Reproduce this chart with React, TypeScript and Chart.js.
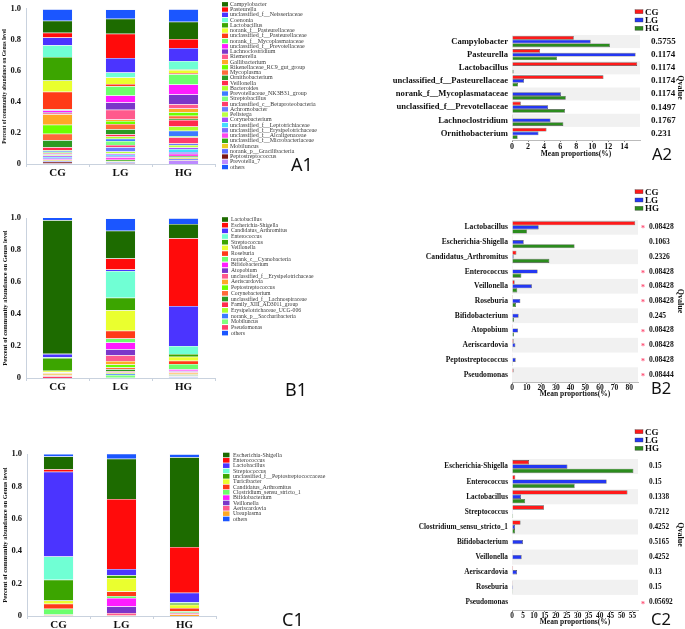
import React, { useEffect, useRef } from "react";
import { Chart, registerables } from "chart.js";

const SERIF = '"Liberation Serif", "Times New Roman", serif';
const SANS = '"Noto Sans", "Liberation Sans", sans-serif';

const GROUPS = ["CG", "LG", "HG"];
const GROUP_COLORS = ["#ff1a1a", "#2438f2", "#2b8c1d"];

const PALETTE = [
  "#1d6b00", "#ff0b0b", "#4b34ff", "#70ffd4", "#3ca500", "#eaff2f", "#ff3a18", "#6cff6c",
  "#ff1cff", "#7b36c9", "#ff5a8d", "#ffa826", "#6cff00", "#ff6a3a", "#2c9a22", "#ff2a4c",
  "#acff2c", "#3c7bff", "#7eff7e", "#ff3b6b", "#6a7cff", "#bcff46", "#a84cff", "#46dcff",
  "#7c6cff", "#ff46ee", "#36aa14", "#eccd24", "#5a6cff", "#7a1414", "#bc8aff",
];
const OTHERS_COLOR = "#1b56ff";

// ---------- A1 ----------
const A1_TAXA = [
  "Campylobacter", "Pasteurella", "unclassified_f__Neisseriaceae", "Coenonia", "Lactobacillus",
  "norank_f__Pasteurellaceae", "unclassified_f__Pasteurellaceae", "norank_f__Mycoplasmataceae",
  "unclassified_f__Prevotellaceae", "Lachnoclostridium", "Riemerella", "Gallibacterium",
  "Rikenellaceae_RC9_gut_group", "Mycoplasma", "Ornithobacterium", "Veillonella", "Bacteroides",
  "Prevotellaceae_NK3B31_group", "Streptobacillus", "unclassified_c__Betaproteobacteria",
  "Achromobacter", "Pelistega", "Corynebacterium", "unclassified_f__Leptotrichiaceae",
  "unclassified_f__Erysipelotrichaceae", "unclassified_f__Alcaligenaceae",
  "unclassified_f__Microbacteriaceae", "Mobiluncus", "norank_p__Gracilibacteria",
  "Peptostreptococcus", "Prevotella_7", "others",
];
const A1_CG = [0.077, 0.031, 0.05, 0.075, 0.152, 0.073, 0.112, 0.006, 0.012, 0.004, 0.01, 0.068, 0.058, 0.042, 0.045, 0.02, 0.004, 0.006, 0.008, 0.005, 0.006, 0.006, 0.008, 0.006, 0.006, 0.005, 0.004, 0.004, 0.006, 0.01, 0.004, 0.075];
const A1_LG = [0.097, 0.156, 0.094, 0.031, 0.001, 0.042, 0.014, 0.06, 0.045, 0.047, 0.062, 0.01, 0.02, 0.033, 0.032, 0.014, 0.016, 0.014, 0.025, 0.015, 0.028, 0.012, 0.008, 0.008, 0.008, 0.016, 0.01, 0.004, 0.006, 0.004, 0.004, 0.06];
const A1_HG = [0.112, 0.058, 0.083, 0.055, 0.003, 0.02, 0.008, 0.065, 0.065, 0.063, 0.027, 0.025, 0.022, 0.02, 0.007, 0.042, 0.027, 0.035, 0.008, 0.04, 0.01, 0.016, 0.01, 0.018, 0.012, 0.014, 0.01, 0.008, 0.008, 0.004, 0.022, 0.08];

// ---------- B1 ----------
const B1_TAXA = [
  "Lactobacillus", "Escherichia-Shigella", "Candidatus_Arthromitus", "Enterococcus", "Streptococcus",
  "Veillonella", "Roseburia", "norank_c__Cyanobacteria", "Bifidobacterium", "Atopobium",
  "unclassified_f__Erysipelotrichaceae", "Aeriscardovia", "Peptostreptococcus", "Corynebacterium",
  "unclassified_f__Lachnospiraceae", "Family_XIII_AD3011_group", "Erysipelotrichaceae_UCG-006",
  "norank_p__Saccharibacteria", "Mobiluncus", "Pseudomonas", "others",
];
const B1_CG = [0.835, 0.001, 0.021, 0.004, 0.08, 0.007, 0.001, 0.001, 0.002, 0.001, 0.003, 0.009, 0.002, 0.003, 0.001, 0.001, 0.001, 0.001, 0.001, 0.011, 0.017];
const B1_LG = [0.173, 0.069, 0.01, 0.167, 0.077, 0.129, 0.048, 0.025, 0.042, 0.038, 0.035, 0.023, 0.019, 0.01, 0.013, 0.008, 0.008, 0.008, 0.017, 0.001, 0.077];
const B1_HG = [0.09, 0.423, 0.25, 0.05, 0.017, 0.025, 0.021, 0.033, 0.008, 0.006, 0.006, 0.008, 0.004, 0.004, 0.004, 0.003, 0.002, 0.006, 0.002, 0.001, 0.035];

// ---------- C1 ----------
const C1_TAXA = [
  "Escherichia-Shigella", "Enterococcus", "Lactobacillus", "Streptococcus",
  "unclassified_f__Peptostreptococcaceae", "Turicibacter", "Candidatus_Arthromitus",
  "Clostridium_sensu_stricto_1", "Bifidobacterium", "Veillonella", "Aeriscardovia", "Ureaplasma", "others",
];
const C1_CG = [0.079, 0.015, 0.523, 0.145, 0.128, 0.02, 0.03, 0.035, 0.001, 0.001, 0.004, 0.004, 0.015];
const C1_LG = [0.248, 0.432, 0.037, 0.001, 0.017, 0.083, 0.029, 0.012, 0.052, 0.041, 0.015, 0.003, 0.031];
const C1_HG = [0.554, 0.283, 0.058, 0.005, 0.01, 0.02, 0.02, 0.01, 0.001, 0.001, 0.008, 0.01, 0.019];

// ---------- A2 ----------
const A2_TAXA = [
  "Campylobacter", "Pasteurella", "Lactobacillus", "unclassified_f__Pasteurellaceae",
  "norank_f__Mycoplasmataceae", "unclassified_f__Prevotellaceae", "Lachnoclostridium", "Ornithobacterium",
];
const A2_CG = [7.7, 3.5, 15.6, 11.4, 0.05, 1.1, 0.1, 4.3];
const A2_LG = [9.8, 15.4, 0.05, 1.5, 6.1, 4.5, 4.8, 3.3];
const A2_HG = [12.2, 5.6, 0.2, 0.75, 6.7, 6.6, 6.4, 0.7];
const A2_Q = ["0.5755", "0.1174", "0.1174", "0.1174", "0.1174", "0.1497", "0.1767", "0.231"];
const A2_SIG = [false, false, false, false, false, false, false, false];
const A2_XTICKS = [0, 2, 4, 6, 8, 10, 12, 14];

// ---------- B2 ----------
const B2_TAXA = [
  "Lactobacillus", "Escherichia-Shigella", "Candidatus_Arthromitus", "Enterococcus", "Veillonella",
  "Roseburia", "Bifidobacterium", "Atopobium", "Aeriscardovia", "Peptostreptococcus", "Pseudomonas",
];
const B2_CG = [84.1, 0.2, 3.0, 0.2, 1.8, 0.1, 0.2, 0.1, 1.1, 0.2, 1.1];
const B2_LG = [18.2, 8.0, 1.1, 17.5, 13.6, 5.7, 4.5, 4.1, 2.3, 2.5, 0];
const B2_HG = [10.2, 42.7, 25.5, 6.4, 3.6, 2.7, 1.4, 1.4, 0.2, 0.1, 0];
const B2_Q = ["0.08428", "0.1063", "0.2326", "0.08428", "0.08428", "0.08428", "0.245", "0.08428", "0.08428", "0.08428", "0.08444"];
const B2_SIG = [true, false, false, true, true, true, false, true, true, true, true];
const B2_XTICKS = [0, 10, 20, 30, 40, 50, 60, 70, 80];

// ---------- C2 ----------
const C2_TAXA = [
  "Escherichia-Shigella", "Enterococcus", "Lactobacillus", "Streptococcus", "Clostridium_sensu_stricto_1",
  "Bifidobacterium", "Veillonella", "Aeriscardovia", "Roseburia", "Pseudomonas",
];
const C2_CG = [7.8, 1.5, 52.7, 14.6, 3.9, 0.3, 0.3, 0.5, 0.1, 0.2];
const C2_LG = [25.3, 43.2, 4.1, 0.1, 1.4, 5.0, 4.4, 2.3, 0.5, 0];
const C2_HG = [55.4, 28.6, 6.0, 0.5, 1.4, 0, 0, 0, 0.1, 0];
const C2_Q = ["0.15", "0.15", "0.1338", "0.7212", "0.4252", "0.5165", "0.4252", "0.13", "0.15", "0.05692"];
const C2_SIG = [false, false, false, false, false, false, false, false, false, true];
const C2_XTICKS = [0, 5, 10, 15, 20, 25, 30, 35, 40, 45, 50, 55];

const AXIS_C = "#c9d2de";
const STACK_EDGE = "rgba(228,234,244,0.9)";
const Y_TITLE = "Percent of community abundance on Genus level";

// ---------- plugins ----------
const sideLegend = {
  id: "sideLegend",
  afterDraw(chart: any, _a: any, o: any) {
    if (!o || !o.items) return;
    const ctx = chart.ctx;
    ctx.save();
    ctx.font = `${o.fontSize}px ${SERIF}`;
    ctx.textBaseline = "middle";
    ctx.textAlign = "left";
    const items = o.items;
    for (let i = 0; i < items.length; i++) {
      const y = o.top + i * o.spacing;
      ctx.fillStyle = items[i].color;
      ctx.fillRect(o.boxX, y - o.boxH / 2, o.boxW, o.boxH);
      ctx.fillStyle = "#3a3a3a";
      ctx.fillText(items[i].label, o.textX, y);
    }
    ctx.restore();
  },
};

const hbarDeco = {
  id: "hbarDeco",
  beforeDatasetsDraw(chart: any, _a: any, o: any) {
    if (!o || !o.bandColor) return;
    const { ctx, chartArea } = chart;
    const ys = chart.scales.y;
    const n = chart.data.labels.length;
    const h = (chartArea.bottom - chartArea.top) / n;
    ctx.save();
    ctx.fillStyle = o.bandColor;
    for (let i = 0; i < n; i += 2) {
      const c = ys.getPixelForValue(i);
      ctx.fillRect(chartArea.left, c - h / 2, chartArea.right - chartArea.left, h);
    }
    ctx.restore();
  },
  afterDraw(chart: any, _a: any, o: any) {
    if (!o || !o.bandColor) return;
    const { ctx, chartArea } = chart;
    const ys = chart.scales.y;
    ctx.save();
    // significance stars
    ctx.fillStyle = "#ff4d73";
    ctx.font = `bold 8px ${SERIF}`;
    ctx.textAlign = "center";
    ctx.textBaseline = "middle";
    const sig = o.sig || [];
    for (let i = 0; i < sig.length; i++) {
      if (sig[i]) ctx.fillText("*", chartArea.right + 5, ys.getPixelForValue(i) + 2);
    }
    // legend
    const items = o.items || [];
    ctx.font = `bold ${o.legendFont}px ${SERIF}`;
    ctx.textAlign = "left";
    for (let i = 0; i < items.length; i++) {
      const y = o.legendYs[i];
      ctx.fillStyle = items[i].color;
      ctx.fillRect(o.legendX, y - 2, 8, 4);
      ctx.strokeStyle = "rgba(60,60,60,0.7)";
      ctx.lineWidth = 0.5;
      ctx.strokeRect(o.legendX, y - 2, 8, 4);
      ctx.fillStyle = "#111";
      ctx.fillText(items[i].label, o.legendX + 10, y + 0.5);
    }
    ctx.restore();
  },
};

Chart.register(...registerables, sideLegend, hbarDeco);

// ---------- config builders ----------
type StackCfg = {
  yWidth: number; padRight: number; padTop: number; xHeight: number; padBottom: number;
  titleSize: number; legendTop: number; legendSpacing: number; boxX: number; boxW: number;
  boxH: number; textX: number; legendFont: number;
};

function stackedConfig(taxa: string[], cg: number[], lg: number[], hg: number[], c: StackCfg): any {
  const n = taxa.length;
  const colorOf = (i: number) => (i === n - 1 ? OTHERS_COLOR : PALETTE[i]);
  const order: number[] = [];
  for (let i = n - 2; i >= 0; i--) order.push(i);
  order.push(n - 1);
  return {
    type: "bar",
    data: {
      labels: GROUPS,
      datasets: order.map((i) => ({
        label: taxa[i],
        data: [cg[i], lg[i], hg[i]],
        backgroundColor: colorOf(i),
        borderColor: STACK_EDGE,
        borderWidth: 0.5,
        barPercentage: 0.476,
        categoryPercentage: 1,
      })),
    },
    options: {
      responsive: false,
      animation: false,
      layout: { padding: { left: 0, right: c.padRight, top: c.padTop, bottom: c.padBottom } },
      plugins: {
        legend: { display: false },
        tooltip: { enabled: false },
        sideLegend: {
          items: taxa.map((t, i) => ({ label: t, color: colorOf(i) })),
          top: c.legendTop, spacing: c.legendSpacing, boxX: c.boxX, boxW: c.boxW, boxH: c.boxH,
          textX: c.textX, fontSize: c.legendFont,
        },
      },
      scales: {
        x: {
          stacked: true,
          grid: { drawOnChartArea: false, drawTicks: true, tickLength: 3, color: AXIS_C },
          border: { display: true, color: AXIS_C },
          ticks: { font: { family: SERIF, size: 11, weight: "bold" }, color: "#111", padding: 0 },
          afterFit: (s: any) => { s.height = c.xHeight; },
        },
        y: {
          stacked: true,
          min: 0,
          max: 1,
          ticks: { stepSize: 0.2, font: { family: SERIF, size: 8.5, weight: "bold", lineHeight: 0.9 }, color: "#111", padding: 5 },
          grid: { display: false, drawTicks: false },
          border: { display: true, color: AXIS_C },
          title: {
            display: true, text: Y_TITLE,
            font: { family: SERIF, size: c.titleSize, weight: "bold" }, color: "#111",
            padding: { top: 1, bottom: 0 },
          },
          afterFit: (s: any) => { s.width = c.yWidth; },
        },
      },
    },
  };
}

type HCfg = {
  max: number; xticks: number[]; padTop: number; padBottom: number; xHeight: number;
  leftW: number; rightW: number; labelSize: number; qSize: number; tickSize: number;
  catPct: number; legendX: number; legendYs: number[];
};

function hbarConfig(taxa: string[], cg: number[], lg: number[], hg: number[], q: string[], sig: boolean[], c: HCfg): any {
  const series = [cg, lg, hg];
  return {
    type: "bar",
    data: {
      labels: taxa,
      datasets: GROUPS.map((g, k) => ({
        label: g,
        data: series[k],
        backgroundColor: GROUP_COLORS[k],
        borderColor: "rgba(50,50,50,0.85)",
        borderWidth: 0.6,
        categoryPercentage: c.catPct,
        barPercentage: 1,
        yAxisID: "y",
      })),
    },
    options: {
      indexAxis: "y",
      responsive: false,
      animation: false,
      layout: { padding: { left: 0, right: 0, top: c.padTop, bottom: c.padBottom } },
      plugins: {
        legend: { display: false },
        tooltip: { enabled: false },
        hbarDeco: {
          bandColor: "#f1f1f1",
          sig,
          items: GROUPS.map((g, k) => ({ label: g, color: GROUP_COLORS[k] })),
          legendX: c.legendX,
          legendYs: c.legendYs,
          legendFont: 9,
        },
      },
      scales: {
        x: {
          min: 0,
          max: c.max,
          afterBuildTicks: (s: any) => { s.ticks = c.xticks.map((v) => ({ value: v })); },
          ticks: { font: { family: SERIF, size: c.tickSize, weight: "bold" }, color: "#111", padding: 0, maxRotation: 0, autoSkip: false },
          grid: { drawOnChartArea: false, drawTicks: true, tickLength: 2, color: "#888" },
          border: { display: true, color: "#bbb" },
          title: {
            display: true, text: "Mean proportions(%)",
            font: { family: SERIF, size: 7.5, weight: "bold" }, color: "#111",
            padding: { top: 0, bottom: 0 },
          },
          afterFit: (s: any) => { s.height = c.xHeight; },
        },
        y: {
          type: "category",
          labels: taxa,
          offset: true,
          grid: { display: false, drawTicks: false },
          border: { display: false },
          ticks: { font: { family: SERIF, size: c.labelSize, weight: "bold" }, color: "#111", padding: 4, autoSkip: false },
          afterFit: (s: any) => { s.width = c.leftW; },
        },
        y2: {
          type: "category",
          position: "right",
          labels: q,
          offset: true,
          grid: { display: false, drawTicks: false },
          border: { display: false },
          ticks: { font: { family: SERIF, size: c.qSize, weight: "bold" }, color: "#111", padding: 11, autoSkip: false },
          title: {
            display: true, text: "Qvalue",
            font: { family: SERIF, size: 8, weight: "bold" }, color: "#111",
            padding: { top: 0, bottom: 0 },
          },
          afterFit: (s: any) => { s.width = c.rightW; },
        },
      },
    },
  };
}

// ---------- components ----------
function ChartBox({ make, left, top, width, height }: { make: () => any; left: number; top: number; width: number; height: number }) {
  const ref = useRef<HTMLCanvasElement>(null);
  useEffect(() => {
    const chart = new Chart(ref.current as HTMLCanvasElement, make());
    return () => chart.destroy();
  }, []);
  return (
    <canvas
      ref={ref}
      width={width}
      height={height}
      style={{ position: "absolute", left, top, width, height }}
    />
  );
}

const PANEL_LABELS = [
  { text: "A1", x: 291, capTop: 158, size: 18 },
  { text: "B1", x: 285, capTop: 383, size: 18 },
  { text: "C1", x: 282, capTop: 613, size: 18 },
  { text: "A2", x: 652, capTop: 149, size: 16.5 },
  { text: "B2", x: 651, capTop: 383, size: 16.5 },
  { text: "C2", x: 651, capTop: 614, size: 16.5 },
];

export default function App() {
  return (
    <div style={{ position: "fixed", left: 0, top: 0, width: 685, height: 629, background: "#fff", overflow: "hidden" }}>
      <ChartBox left={0} top={0} width={345} height={185}
        make={() => stackedConfig(A1_TAXA, A1_CG, A1_LG, A1_HG, {
          yWidth: 26, padRight: 130, padTop: 4, xHeight: 18, padBottom: 3, titleSize: 5.5,
          legendTop: 4.3, legendSpacing: 5.25, boxX: 222, boxW: 6, boxH: 4.4, textX: 230, legendFont: 6,
        })} />
      <ChartBox left={0} top={185} width={345} height={220}
        make={() => stackedConfig(B1_TAXA, B1_CG, B1_LG, B1_HG, {
          yWidth: 26, padRight: 130, padTop: 33, xHeight: 18, padBottom: 9, titleSize: 6.5,
          legendTop: 34.5, legendSpacing: 5.68, boxX: 222, boxW: 6, boxH: 4.6, textX: 231, legendFont: 5.7,
        })} />
      <ChartBox left={0} top={405} width={345} height={224}
        make={() => stackedConfig(C1_TAXA, C1_CG, C1_LG, C1_HG, {
          yWidth: 27, padRight: 129, padTop: 49, xHeight: 13, padBottom: 0, titleSize: 6.5,
          legendTop: 50, legendSpacing: 5.33, boxX: 223, boxW: 6.5, boxH: 4.6, textX: 233, legendFont: 5.9,
        })} />
      <ChartBox left={345} top={0} width={340} height={185}
        make={() => hbarConfig(A2_TAXA, A2_CG, A2_LG, A2_HG, A2_Q, A2_SIG, {
          max: 15.95, xticks: A2_XTICKS, padTop: 35, padBottom: 26, xHeight: 19,
          leftW: 167, rightW: 45, labelSize: 8.6, qSize: 9, tickSize: 8, catPct: 0.85,
          legendX: 290, legendYs: [11.7, 20, 28.3],
        })} />
      <ChartBox left={345} top={185} width={340} height={220}
        make={() => hbarConfig(B2_TAXA, B2_CG, B2_LG, B2_HG, B2_Q, B2_SIG, {
          max: 86, xticks: B2_XTICKS, padTop: 35, padBottom: 6, xHeight: 17,
          leftW: 167, rightW: 47, labelSize: 7.6, qSize: 7.6, tickSize: 7.5, catPct: 0.83,
          legendX: 290, legendYs: [6.7, 15, 23.3],
        })} />
      <ChartBox left={345} top={405} width={340} height={224}
        make={() => hbarConfig(C2_TAXA, C2_CG, C2_LG, C2_HG, C2_Q, C2_SIG, {
          max: 57.5, xticks: C2_XTICKS, padTop: 54, padBottom: 2, xHeight: 17,
          leftW: 167, rightW: 47, labelSize: 7.3, qSize: 7.3, tickSize: 7.3, catPct: 0.86,
          legendX: 290, legendYs: [26.7, 35, 43.3],
        })} />
      {PANEL_LABELS.map((p) => (
        <div key={p.text} style={{
          position: "absolute", left: p.x, top: p.capTop - 0.174 * p.size,
          fontFamily: SANS, fontSize: p.size, lineHeight: 1, color: "#111", whiteSpace: "nowrap",
        }}>{p.text}</div>
      ))}
    </div>
  );
}
